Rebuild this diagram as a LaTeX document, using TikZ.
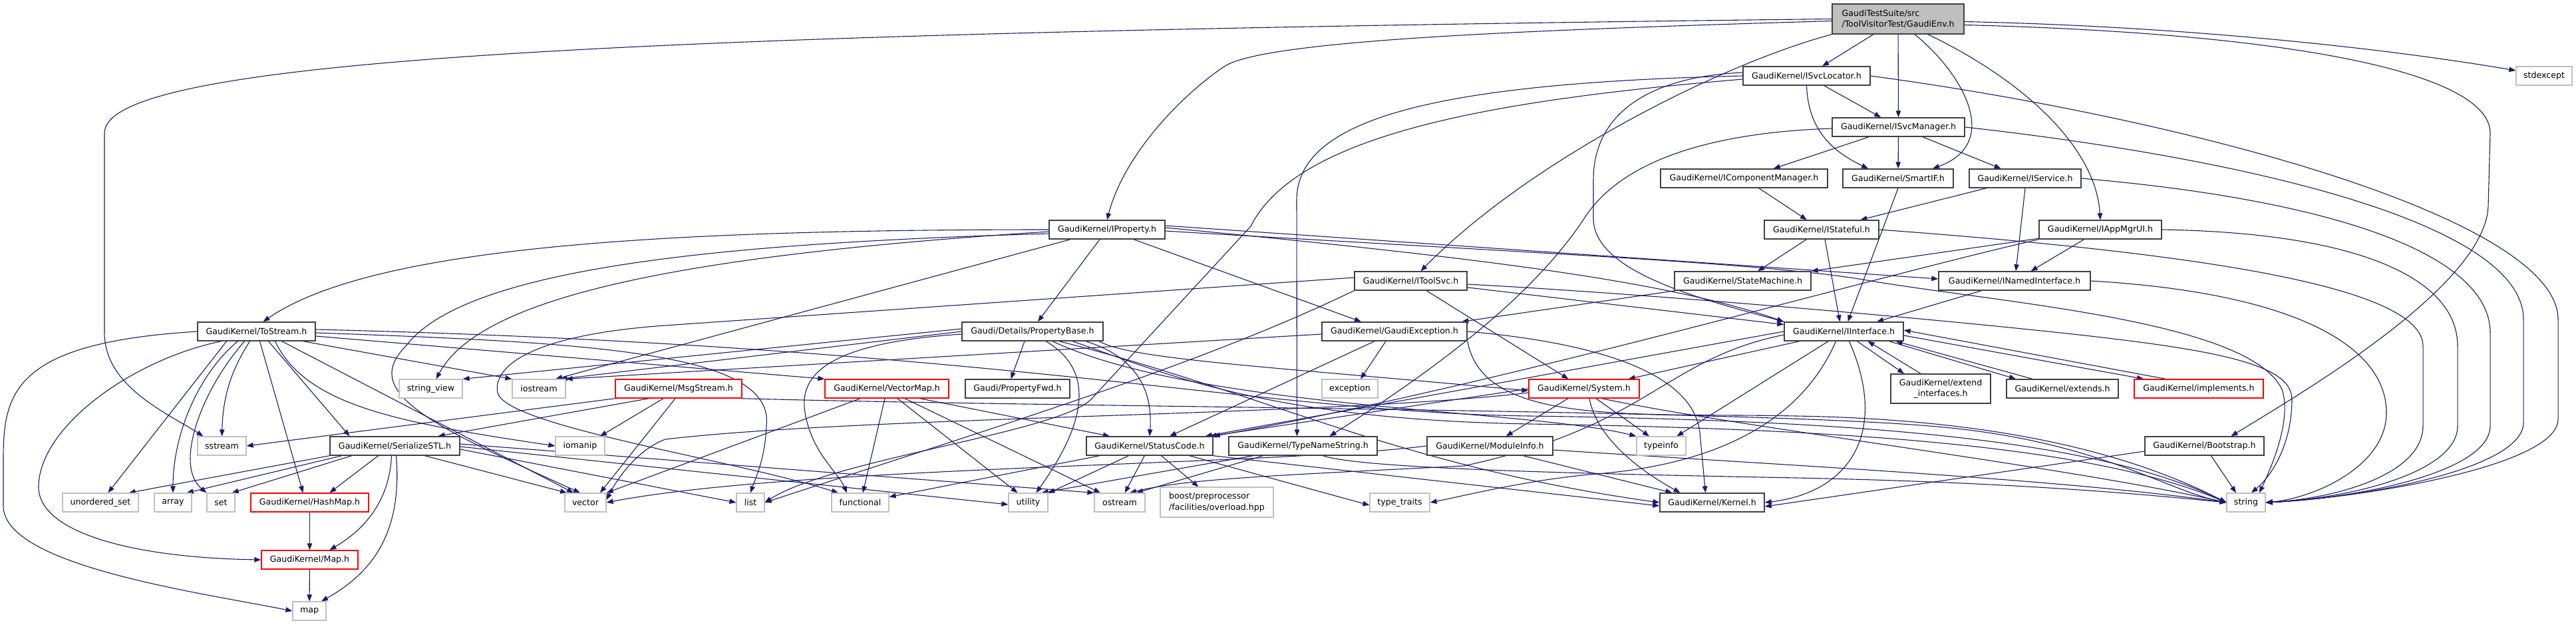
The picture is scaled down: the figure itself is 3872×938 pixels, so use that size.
\documentclass[tikz,border=0pt]{standalone}
\usepackage{fontspec}
\setmainfont{DejaVu Sans}
\usetikzlibrary{arrows.meta}
\definecolor{edgeblue}{HTML}{191970}
\definecolor{boxgrey}{HTML}{404040}
\definecolor{sysgrey}{HTML}{BFBFBF}
\pgfdeclarelayer{bglayer}
\pgfdeclarelayer{edgelayer}
\pgfsetlayers{bglayer,edgelayer,main}
\begin{document}
\begin{tikzpicture}[x=1pt,y=-1pt,
  box/.style={draw=boxgrey, line width=1.4pt, fill=white, inner sep=0pt, minimum height=28pt, font=\fontsize{12.6}{16.5}\selectfont, text=black},
  sysbox/.style={box, draw=sysgrey, line width=1.2pt},
  redbox/.style={box, draw=red},
  rootbox/.style={box, fill=sysgrey},
  dep/.style={draw=edgeblue, line width=1.1pt, -{Triangle[length=10pt,width=7.5pt]}}]
\useasboundingbox (0,0) rectangle (3872,938);
\begin{pgfonlayer}{bglayer}
\fill[white] (0,0) rectangle (3872,938);
\end{pgfonlayer}
% ---------- nodes ----------
\node[rootbox, minimum width=198pt, minimum height=45pt, align=left] (env) at (2853,28.5) {GaudiTestSuite/src\\/ToolVisitorTest/GaudiEnv.h};
\node[sysbox, minimum width=84pt] (stdexcept) at (3824,114) {stdexcept};
\node[box, minimum width=191pt] (svcloc) at (2715.5,114) {GaudiKernel/ISvcLocator.h};
\node[box, minimum width=199pt] (svcman) at (2853.5,191) {GaudiKernel/ISvcManager.h};
\node[box, minimum width=251pt] (compman) at (2621.5,268) {GaudiKernel/IComponentManager.h};
\node[box, minimum width=166pt] (smartif) at (2853,268) {GaudiKernel/SmartIF.h};
\node[box, minimum width=168pt] (iservice) at (3044,268) {GaudiKernel/IService.h};
\node[box, minimum width=174pt] (iprop) at (1664,345) {GaudiKernel/IProperty.h};
\node[box, minimum width=172pt] (istateful) at (2738,345) {GaudiKernel/IStateful.h};
\node[box, minimum width=184pt] (appmgr) at (3157,345) {GaudiKernel/IAppMgrUI.h};
\node[box, minimum width=169pt] (toolsvc) at (2120.5,422) {GaudiKernel/IToolSvc.h};
\node[box, minimum width=205pt] (statem) at (2619.5,422) {GaudiKernel/StateMachine.h};
\node[box, minimum width=228pt] (named) at (3028,422) {GaudiKernel/INamedInterface.h};
\node[box, minimum width=177pt] (tostream) at (385.5,498) {GaudiKernel/ToStream.h};
\node[box, minimum width=212pt] (propbase) at (1552,498) {Gaudi/Details/PropertyBase.h};
\node[box, minimum width=218pt] (gexc) at (2096,498) {GaudiKernel/GaudiException.h};
\node[box, minimum width=179pt] (iiface) at (2771.5,498) {GaudiKernel/IInterface.h};
\node[sysbox, minimum width=95pt] (strview) at (647.5,584) {string\_view};
\node[sysbox, minimum width=80pt] (iostream) at (810,584) {iostream};
\node[redbox, minimum width=190pt] (msgstream) at (1020,584) {GaudiKernel/MsgStream.h};
\node[redbox, minimum width=186pt] (vectormap) at (1333,584) {GaudiKernel/VectorMap.h};
\node[box, minimum width=157pt] (propfwd) at (1529.5,584) {Gaudi/PropertyFwd.h};
\node[sysbox, minimum width=84pt] (exception) at (2029,584) {exception};
\node[redbox, minimum width=166pt] (system) at (2381,584) {GaudiKernel/System.h};
\node[box, minimum width=150pt, minimum height=44pt, align=center] (extiface) at (2917,584) {GaudiKernel/extend\\\_interfaces.h};
\node[box, minimum width=168pt] (extends) at (3100,584) {GaudiKernel/extends.h};
\node[redbox, minimum width=194pt] (implements) at (3305,584) {GaudiKernel/implements.h};
\node[sysbox, minimum width=73pt] (sstream) at (333.5,670) {sstream};
\node[box, minimum width=195pt] (serialize) at (593.5,670) {GaudiKernel/SerializeSTL.h};
\node[sysbox, minimum width=74pt] (iomanip) at (872,670) {iomanip};
\node[box, minimum width=190pt] (statuscode) at (1728,670) {GaudiKernel/StatusCode.h};
\node[box, minimum width=223pt] (typename) at (1958.5,670) {GaudiKernel/TypeNameString.h};
\node[box, minimum width=189pt] (moduleinfo) at (2239.5,670) {GaudiKernel/ModuleInfo.h};
\node[sysbox, minimum width=74pt] (typeinfo) at (2497,670) {typeinfo};
\node[box, minimum width=179pt] (bootstrap) at (3313.5,670) {GaudiKernel/Bootstrap.h};
\node[sysbox, minimum width=114pt] (unordset) at (151,755) {unordered\_set};
\node[sysbox, minimum width=56pt] (narray) at (260,755) {array};
\node[sysbox, minimum width=42pt] (nset) at (332,755) {set};
\node[redbox, minimum width=177pt] (hashmap) at (465.5,755) {GaudiKernel/HashMap.h};
\node[sysbox, minimum width=62pt] (vector) at (880,755) {vector};
\node[sysbox, minimum width=42pt] (nlist) at (1128,755) {list};
\node[sysbox, minimum width=86pt] (functional) at (1293,755) {functional};
\node[sysbox, minimum width=59pt] (utility) at (1545.5,755) {utility};
\node[sysbox, minimum width=76pt] (ostream) at (1683,755) {ostream};
\node[sysbox, minimum width=170pt, minimum height=45pt, align=left] (boost) at (1829,754.5) {boost/preprocessor\\/facilities/overload.hpp};
\node[sysbox, minimum width=90pt] (typetraits) at (2104,755) {type\_traits};
\node[box, minimum width=157pt] (kernel) at (2573.5,755) {GaudiKernel/Kernel.h};
\node[sysbox, minimum width=58pt] (nstring) at (3376,755) {string};
\node[redbox, minimum width=145pt] (mapH) at (465.5,841) {GaudiKernel/Map.h};
\node[sysbox, minimum width=50pt] (nmap) at (465,918) {map};
% ---------- edges ----------
\begin{pgfonlayer}{edgelayer}
% GaudiEnv
\draw[dep] (env.west) .. controls (900,50) and (157,90) .. (157,200) -- (157,500) .. controls (157,580) and (250,620) .. ([xshift=-28pt]sstream.north);
\draw[dep] ([yshift=-3pt]env.west) .. controls (2300,45) and (1900,60) .. (1840,100) .. controls (1780,140) and (1690,230) .. (iprop.north);
\draw[dep] (env.south west) .. controls (2590,95) and (2300,240) .. ([xshift=15pt]toolsvc.north);
\draw[dep] (env) -- (svcloc);
\draw[dep] (env) -- (svcman);
\draw[dep] ([xshift=25pt]env.south) .. controls (2950,110) and (3010,215) .. ([xshift=52pt]smartif.north);
\draw[dep] ([xshift=45pt]env.south) .. controls (3040,120) and (3150,220) .. (appmgr.north);
\draw[dep] ([yshift=-4pt]env.east) .. controls (3300,40) and (3600,75) .. ([yshift=8pt]stdexcept.west);
\draw[dep] ([yshift=-9pt]env.east) .. controls (3450,50) and (3743,110) .. (3743,200) -- (3740,310) .. controls (3735,430) and (3460,590) .. ([xshift=40pt]bootstrap.north);
% ISvcLocator
\draw[dep] (svcloc) -- (svcman);
\draw[dep] (svcloc.south) .. controls (2718,200) and (2760,230) .. ([xshift=-45pt]smartif.north);
\draw[dep] ([yshift=5pt]svcloc.west) .. controls (2480,115) and (2395,170) .. (2395,270) -- (2395,330) .. controls (2398,410) and (2560,450) .. (iiface.north west);
\draw[dep] (svcloc.west) .. controls (2150,125) and (1950,180) .. (1949,300) -- ([xshift=-9pt]typename.north);
\draw[dep] ([yshift=-5pt]svcloc.west) .. controls (2250,150) and (1950,200) .. (1880,340) -- (1640,600) .. controls (1590,650) and (1250,690) .. (nlist.east);
\draw[dep] (svcloc.east) .. controls (3300,180) and (3845,330) .. (3845,480) -- (3845,630) .. controls (3845,700) and (3550,748) .. (nstring.east);
% ISvcManager
\draw[dep] (svcman) -- (compman);
\draw[dep] (svcman) -- (smartif);
\draw[dep] (svcman) -- (iservice);
\draw[dep] ([yshift=-2pt]svcman.west) .. controls (2550,200) and (2430,250) .. (2380,330) .. controls (2300,450) and (2150,560) .. ([xshift=40pt]typename.north);
\draw[dep] (svcman.east) .. controls (3350,235) and (3793,330) .. (3793,480) -- (3793,635) .. controls (3793,705) and (3550,748) .. (nstring.east);
% IComponentManager, SmartIF, IService
\draw[dep] (compman) -- (istateful);
\draw[dep] (smartif.south) -- ([xshift=6pt]iiface.north);
\draw[dep] (iservice) -- (istateful);
\draw[dep] (iservice.south) -- ([xshift=2pt]named.north);
\draw[dep] (iservice.east) .. controls (3500,300) and (3743,380) .. (3743,500) -- (3743,640) .. controls (3743,708) and (3550,748) .. (nstring.east);
% IStateful
\draw[dep] (istateful) -- (statem);
\draw[dep] ([xshift=5pt]istateful.south) -- ([xshift=-6pt]iiface.north);
\draw[dep] (istateful.east) .. controls (3300,380) and (3642,430) .. (3642,520) -- (3642,640) .. controls (3642,710) and (3520,748) .. (nstring.east);
% IAppMgrUI
\draw[dep] (appmgr) -- (named);
\draw[dep] (appmgr) -- (statem);
\draw[dep] (appmgr.south west) .. controls (2800,420) and (2250,580) .. (statuscode.north east);
\draw[dep] (appmgr.east) .. controls (3550,350) and (3694,420) .. (3694,520) -- (3694,640) .. controls (3694,708) and (3540,748) .. (nstring.east);
% IToolSvc
\draw[dep] (toolsvc) -- (iiface);
\draw[dep] (toolsvc) -- (system);
\draw[dep] ([yshift=-5pt]toolsvc.east) .. controls (2450,440) and (2800,470) .. (3000,490) .. controls (3300,520) and (3445,540) .. (3445,600) .. controls (3445,660) and (3420,710) .. ([xshift=8pt]nstring.north);
\draw[dep] ([yshift=5pt]toolsvc.west) -- (1000,489) .. controls (800,503) and (740,550) .. (748,590) .. controls (760,640) and (1100,690) .. ([xshift=-33pt]functional.north);
\draw[dep] (toolsvc.south west) .. controls (1800,550) and (1500,640) .. (nlist.east);
% StateMachine, INamedInterface
\draw[dep] (statem) -- (gexc);
\draw[dep] (named) -- (iiface);
\draw[dep] (named.east) .. controls (3450,440) and (3587,520) .. (3587,620) .. controls (3587,700) and (3480,748) .. (nstring.east);
% IProperty
\draw[dep] (iprop.west) .. controls (1000,345) and (560,370) .. ([xshift=10pt]tostream.north);
\draw[dep] ([yshift=-3pt]iprop.west) .. controls (1000,385) and (720,450) .. ([xshift=8pt]strview.north);
\draw[dep] ([yshift=-6pt]iprop.west) .. controls (1100,365) and (700,400) .. (610,520) .. controls (540,590) and (650,640) .. ([xshift=-8pt]vector.north);
\draw[dep] ([xshift=-55pt]iprop.south) -- ([xshift=25pt]iostream.north);
\draw[dep] (iprop) -- ([xshift=8pt]propbase.north);
\draw[dep] ([xshift=40pt]iprop.south) -- ([xshift=-50pt]gexc.north);
\draw[dep] ([yshift=3pt]iprop.east) .. controls (2200,385) and (2500,420) .. (iiface.north west);
\draw[dep] ([yshift=6pt]iprop.east) -- ([yshift=3pt]named.west);
\draw[dep] ([yshift=-2pt]iprop.east) .. controls (2300,380) and (2650,395) .. (2800,420) .. controls (3000,455) and (3380,480) .. (3430,585) .. controls (3445,630) and (3415,700) .. ([xshift=20pt]nstring.north);
% ToStream
\draw[dep] (tostream.west) .. controls (20,515) and (5,590) .. (5,690) -- (5,760) .. controls (5,850) and (300,890) .. (nmap.west);
\draw[dep] ([xshift=-53pt]tostream.south) .. controls (200,540) and (60,640) .. (58,730) .. controls (56,800) and (200,838) .. (mapH.west);
\draw[dep] ([xshift=-45pt]tostream.south) -- (unordset);
\draw[dep] ([xshift=-28pt]tostream.south) .. controls (300,560) and (260,650) .. (narray.north);
\draw[dep] ([xshift=-18pt]tostream.south) .. controls (300,590) and (262,700) .. (nset.north west);
\draw[dep] ([xshift=-10pt]tostream.south) .. controls (345,560) and (335,600) .. (sstream.north);
\draw[dep] ([xshift=5pt]tostream.south) -- ([xshift=-10pt]hashmap.north);
\draw[dep] ([xshift=18pt]tostream.south) -- ([xshift=-68pt]serialize.north);
\draw[dep] ([xshift=28pt]tostream.south) .. controls (460,610) and (600,635) .. (iomanip.west);
\draw[dep] ([xshift=38pt]tostream.south) -- ([xshift=-18pt]vector.north);
\draw[dep] ([xshift=70pt]tostream.south) -- (iostream.north west);
\draw[dep] ([yshift=-7pt]tostream.east) -- (vectormap.north west);
\draw[dep] ([yshift=-2pt]tostream.east) .. controls (900,515) and (1165,530) .. (1152,640) .. controls (1150,690) and (1135,720) .. (nlist.north);
\draw[dep] ([yshift=3pt]tostream.east) .. controls (1500,520) and (1900,620) .. (2300,625) .. controls (2800,632) and (3150,660) .. (nstring.west);
% PropertyBase
\draw[dep] ([xshift=-12pt]propbase.south) -- ([xshift=-10pt]propfwd.north);
\draw[dep] ([xshift=40pt]propbase.south) .. controls (1900,590) and (2100,700) .. (kernel.west);
\draw[dep] ([xshift=80pt]propbase.south) .. controls (1720,540) and (1732,600) .. (statuscode.north);
\draw[dep] ([yshift=-4pt]propbase.west) .. controls (1250,515) and (1200,560) .. (1210,620) .. controls (1220,680) and (1260,710) .. ([xshift=-20pt]functional.north);
\draw[dep] (propbase.west) -- ([xshift=-8pt]iostream.north east);
\draw[dep] ([yshift=4pt]propbase.west) -- (strview.north east);
\draw[dep] ([xshift=60pt]propbase.south) .. controls (1750,560) and (1900,630) .. (2300,637) .. controls (2800,645) and (3150,672) .. (nstring.west);
\draw[dep] ([xshift=20pt]propbase.south) .. controls (1670,570) and (1600,680) .. ([xshift=12pt]utility.north);
\draw[dep] ([xshift=30pt]propbase.south) .. controls (1800,615) and (2300,615) .. (typeinfo.north west);
\draw[dep] ([xshift=100pt]propbase.south) .. controls (1700,540) and (1900,550) .. ([yshift=-3pt]system.west);
% GaudiException
\draw[dep] ([xshift=-13pt]gexc.south) -- ([xshift=16pt]exception.north);
\draw[dep] ([xshift=-30pt]gexc.south) -- ([xshift=30pt]statuscode.north);
\draw[dep] ([yshift=-4pt]gexc.west) -- (iostream.north east);
\draw[dep] (gexc.east) .. controls (2400,515) and (2545,560) .. (2555,650) -- ([xshift=-10pt]kernel.north);
\draw[dep] (gexc.south east) .. controls (2230,640) and (2450,620) .. (2700,625) .. controls (3000,630) and (3200,680) .. (nstring.west);
% IInterface
\draw[dep] (iiface) -- (system);
\draw[dep] (iiface) -- (typeinfo);
\draw[dep] ([xshift=-12pt]iiface.south) .. controls (2700,650) and (2550,700) .. (2400,712) .. controls (2300,720) and (2200,745) .. (typetraits.east);
\draw[dep] ([xshift=8pt]iiface.south) .. controls (2840,650) and (2780,740) .. (kernel.east);
\draw[dep] (iiface.west) -- ([xshift=-12pt]statuscode.north east);
\draw[dep] ([yshift=-5pt]iiface.west) .. controls (2500,540) and (2480,640) .. (2200,700) .. controls (1900,715) and (1780,720) .. ([xshift=15pt]ostream.north);
\draw[dep] ([xshift=20pt]iiface.south) -- ([xshift=-55pt]extiface.north);
\draw[dep] ([xshift=-30pt]extiface.north) -- ([xshift=36pt]iiface.south);
\draw[dep] ([xshift=68pt]iiface.south) -- ([xshift=-70pt]extends.north);
\draw[dep] ([xshift=-45pt]extends.north) -- ([xshift=78pt]iiface.south);
\draw[dep] ([yshift=-6pt]iiface.east) -- ([xshift=-83pt]implements.north);
\draw[dep] ([xshift=-50pt]implements.north) -- ([yshift=2pt]iiface.east);
% System
\draw[dep] (system) -- (moduleinfo);
\draw[dep] ([xshift=8pt]system.south) .. controls (2400,660) and (2470,710) .. ([xshift=-48pt]kernel.north);
\draw[dep] ([xshift=18pt]system.south) -- ([xshift=-18pt]typeinfo.north);
\draw[dep] ([xshift=27pt]system.south) .. controls (2600,640) and (3100,700) .. (nstring.west);
\draw[dep] (system.west) -- ([xshift=-5pt]statuscode.north east);
\draw[dep] ([yshift=-6pt]system.west) .. controls (2000,625) and (1300,625) .. (1000,660) .. controls (960,675) and (930,715) .. ([yshift=4pt]vector.east);
% ModuleInfo
\draw[dep] ([xshift=50pt]moduleinfo.south) -- ([xshift=-60pt]kernel.north);
\draw[dep] ([yshift=-6pt]moduleinfo.east) .. controls (2700,700) and (3100,720) .. (nstring.west);
\draw[dep] (moduleinfo.west) .. controls (1900,700) and (1200,700) .. (vector.east);
% TypeNameString
\draw[dep] ([xshift=-75pt]typename.south) -- ([xshift=20pt]utility.north);
\draw[dep] ([xshift=-60pt]typename.south) -- ([xshift=25pt]ostream.north);
\draw[dep] ([xshift=30pt]typename.south) .. controls (2050,705) and (2400,712) .. (2700,718) .. controls (3000,724) and (3200,740) .. (nstring.west);
% StatusCode
\draw[dep] (statuscode) -- (boost);
\draw[dep] (statuscode) -- (functional);
\draw[dep] (statuscode) -- (utility);
\draw[dep] (statuscode) -- (ostream);
\draw[dep] ([xshift=60pt]statuscode.south) -- ([yshift=-4pt]typetraits.west);
\draw[dep] (statuscode.south east) -- ([yshift=-5pt]kernel.west);
% Bootstrap
\draw[dep] ([yshift=-8pt]bootstrap.west) -- ([yshift=-6pt]kernel.east);
\draw[dep] ([xshift=10pt]bootstrap.south) -- ([xshift=-15pt]nstring.north);
% MsgStream
\draw[dep] (msgstream.south west) -- (sstream.east);
\draw[dep] ([xshift=-45pt]msgstream.south) -- ([xshift=65pt]serialize.north);
\draw[dep] ([xshift=-23pt]msgstream.south) -- ([xshift=30pt]iomanip.north);
\draw[dep] ([xshift=-5pt]msgstream.south) -- ([xshift=22pt]vector.north);
\draw[dep] (msgstream.south east) .. controls (1600,612) and (2600,615) .. (2900,640) .. controls (3150,660) and (3250,735) .. (nstring.west);
% VectorMap
\draw[dep] ([xshift=-40pt]vectormap.south) -- (vector.north east);
\draw[dep] ([xshift=-3pt]vectormap.south) -- ([xshift=4pt]functional.north);
\draw[dep] ([xshift=16pt]vectormap.south) -- ([xshift=-16pt]utility.north);
\draw[dep] ([xshift=27pt]vectormap.south) -- ([xshift=-29pt]ostream.north);
\draw[dep] ([xshift=50pt]vectormap.south) -- ([xshift=-60pt]statuscode.north);
% SerializeSTL
\draw[dep] (serialize.south west) -- ([xshift=-15pt]unordset.north east);
\draw[dep] ([xshift=-80pt]serialize.south) -- ([xshift=-8pt]narray.north east);
\draw[dep] ([xshift=-65pt]serialize.south) -- ([xshift=-5pt]nset.north east);
\draw[dep] ([xshift=-25pt]serialize.south) -- ([xshift=30pt]hashmap.north);
\draw[dep] ([xshift=-5pt]serialize.south) .. controls (585,760) and (540,800) .. ([xshift=30pt]mapH.north);
\draw[dep] ([xshift=2pt]serialize.south) .. controls (605,800) and (560,860) .. ([xshift=18pt]nmap.north);
\draw[dep] ([xshift=45pt]serialize.south) -- ([xshift=-28pt]vector.north);
\draw[dep] ([yshift=-5pt]serialize.east) -- (nlist.west);
\draw[dep] ([yshift=-1pt]serialize.east) -- ([yshift=-3pt]utility.west);
\draw[dep] ([yshift=3pt]serialize.east) -- (ostream.north west);
% HashMap, Map
\draw[dep] (hashmap) -- (mapH);
\draw[dep] (mapH) -- (nmap);
\end{pgfonlayer}
\end{tikzpicture}
\end{document}
